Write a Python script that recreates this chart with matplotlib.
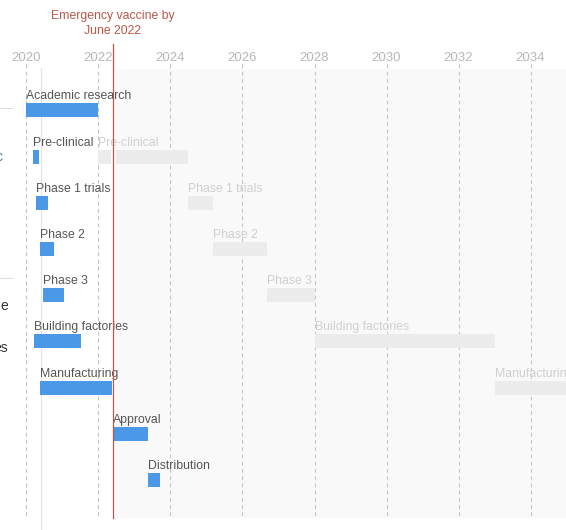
import matplotlib.pyplot as plt

plt.rcParams["font.family"] = ["Liberation Sans", "DejaVu Sans"]

# timeline rows, top to bottom
stages = ["Academic research", "Pre-clinical", "Phase 1 trials", "Phase 2", "Phase 3",
          "Building factories", "Manufacturing", "Approval", "Distribution"]
# compressed (emergency) schedule, in decimal years
fast_start = [2020.0, 2020.18, 2020.26, 2020.37, 2020.46, 2020.2, 2020.37, 2022.4, 2023.38]
fast_end = [2022.0, 2020.35, 2020.6, 2020.76, 2021.05, 2021.51, 2022.38, 2023.37, 2023.71]
# typical schedule (grey), None where not shown
typical_start = [None, 2022.0, 2024.49, 2025.18, 2026.68, 2028.0, 2033.0, None, None]
typical_end = [None, 2024.49, 2025.18, 2026.68, 2028.0, 2033.0, 2036.0, None, None]

deadline = 2022.39
deadline_label = "Emergency vaccine by\nJune 2022"
tick_years = [2020, 2022, 2024, 2026, 2028, 2030, 2032, 2034]

BLUE = "#4a98e6"
GREY_BAR = "#ececec"
GREY_TEXT = "#cfcfcf"
LABEL = "#555555"
RED = "#b8574a"

# pixel -> data helpers (figure is 566 x 530)
ROW0, ROWSTEP = 110.5, 46.19


def ypx(px):
    return (px - ROW0) / ROWSTEP


fig = plt.figure(figsize=(5.66, 5.30), dpi=100)
ax = fig.add_axes([0, 0, 1, 1])
ax.set_xlim(2019.264, 2034.986)
ax.set_ylim(ypx(530), ypx(0))
ax.axis("off")

bar_h = 14 / ROWSTEP
label_off = 4 / ROWSTEP

# shaded future region
ax.fill_between([deadline, 2036], ypx(69), ypx(518), color="#f9f9f9", lw=0, zorder=0)

# grid lines and year labels
for yr in tick_years:
    ax.plot([yr, yr], [ypx(64), ypx(518)], color="#c4c4c4", lw=0.8,
            ls=(0, (3.5, 3)), zorder=1)
    ax.text(yr, ypx(61), str(yr), ha="center", va="baseline", fontsize=9.5,
            color="#b8b8b8")

# faint leftovers of the neighbouring panel
ax.plot([2020.403, 2020.403], [ypx(68), ypx(530)], color="#e3e3e3", lw=0.8, zorder=1)
for py in [108, 278]:
    ax.plot([2019.264, 2019.6], [ypx(py), ypx(py)], color="#dddddd", lw=0.8)
ax.text(2019.50, ypx(310), "e", ha="right", va="baseline", fontsize=10, color="#333333")
ax.text(2019.50, ypx(352), "es", ha="right", va="baseline", fontsize=10, color="#333333")
ax.text(2019.33, ypx(161), "c", ha="right", va="baseline", fontsize=10, color="#3b7fa8")

# typical schedule
for i, (s, e) in enumerate(zip(typical_start, typical_end)):
    if s is None:
        continue
    ax.barh(i, e - s, left=s, height=bar_h, color=GREY_BAR, lw=0, zorder=2)
    ax.text(s, i - bar_h / 2 - label_off, stages[i], ha="left", va="baseline",
            fontsize=8.8, color=GREY_TEXT, zorder=3.5)

# white halo behind deadline line (cuts the grey bar only)
ax.plot([deadline, deadline], [ypx(69), ypx(518)], color="white", lw=3.6, zorder=2.5)

# emergency schedule
for i, (s, e) in enumerate(zip(fast_start, fast_end)):
    ax.barh(i, e - s, left=s, height=bar_h, color=BLUE, lw=0, zorder=4)
    ax.text(s, i - bar_h / 2 - label_off, stages[i], ha="left", va="baseline",
            fontsize=8.8, color=LABEL, zorder=5)

# deadline marker
ax.plot([deadline, deadline], [ypx(44), ypx(518)], color=RED, lw=0.9, zorder=6)
ax.text(deadline, ypx(10), deadline_label, ha="center", va="top", fontsize=8.8,
        color=RED, linespacing=1.3)

fig.savefig("out.png", dpi=100)
